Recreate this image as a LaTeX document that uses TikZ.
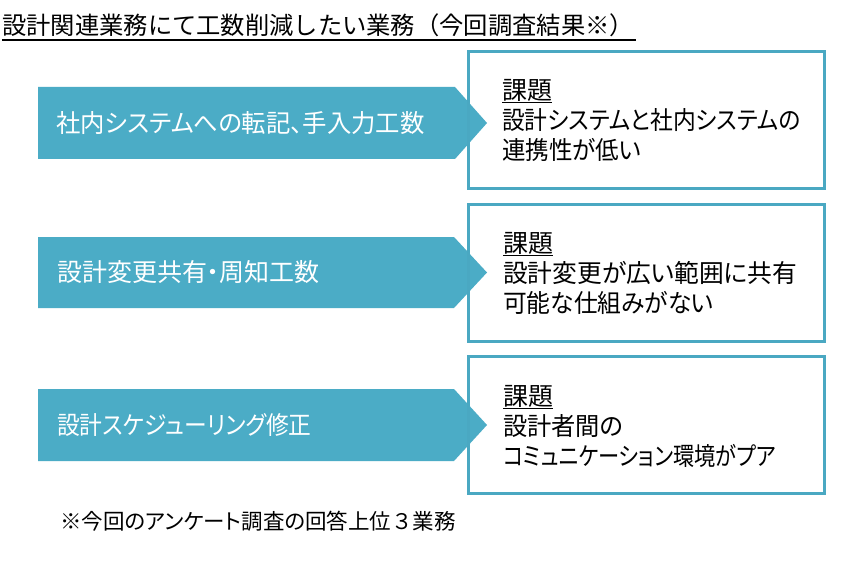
\documentclass[tikz,border=0pt]{standalone}
\usepackage{fontspec}
\setmainfont[RawFeature=+palt]{Noto Sans CJK JP}
\newfontfamily\fullwidthfont{Noto Sans CJK JP}
\definecolor{accentblue}{HTML}{4BACC6}
\definecolor{framecol}{HTML}{4AA8C2}
\newcommand\hsq[2]{\scalebox{#1}[1]{#2}}
\begin{document}
\begin{tikzpicture}[x=1pt,y=-1pt,
  arrowshape/.style={fill=accentblue,draw=none},
  boxframe/.style={draw=framecol,line width=3pt},
  arrowtext/.style={anchor=west,text=white,inner sep=0pt,font=\fontsize{25}{28}\selectfont},
  boxtext/.style={anchor=west,align=left,inner sep=0pt,font=\fontsize{25}{30}\selectfont},
  titletext/.style={anchor=west,inner sep=0pt,font=\fullwidthfont\fontsize{24.3}{28}\selectfont},
  notetext/.style={anchor=west,inner sep=0pt,font=\fontsize{21.5}{24}\selectfont}]
\useasboundingbox[fill=white] (0,0) rectangle (862,575);

% title
\node[titletext] (title) at (2,25.5) {設計関連業務にて工数削減したい業務（今回調査結果※）};
\draw[line width=2pt] (2,40) -- (636,40);

% arrows
\fill[arrowshape] (38,87) -- (455,87) -- (487,123) -- (455,159) -- (38,159) -- cycle;
\fill[arrowshape] (38,237) -- (454,237) -- (487,272.5) -- (454,308) -- (38,308) -- cycle;
\fill[arrowshape] (38,389) -- (454,389) -- (487,425) -- (454,461) -- (38,461) -- cycle;

% boxes
\draw[boxframe] (468,52) rectangle (824,188);
\draw[boxframe] (468,204) rectangle (824,341);
\draw[boxframe] (468,356) rectangle (824,493);

% arrow texts
\node[arrowtext] (a1) at (56,123) {\hsq{0.975}{社内システムへの転記、手入力工数}};
\node[arrowtext] (a2) at (57,272.5) {設計変更共有・周知工数};
\node[arrowtext] (a3) at (57,425) {\hsq{0.91}{設計スケジューリング修正}};

% box texts
\node[boxtext] (b1) at (502,120) {\underline{課題}\\\hsq{0.91}{設計システムと社内システムの}\\\hsq{0.94}{連携性が低い}};
\node[boxtext] (b2) at (503,273) {\underline{課題}\\\hsq{0.99}{設計変更が広い範囲に共有}\\\hsq{0.95}{可能な仕組みがない}};
\node[boxtext] (b3) at (503,426) {\underline{課題}\\\hsq{0.97}{設計者間の}\\\hsq{0.85}{コミュニケーション環境がプア}};

% note
\node[notetext] (note) at (60,521) {※今回のアンケート調査の回答上位{\fullwidthfont ３}業務};
\end{tikzpicture}
\end{document}
